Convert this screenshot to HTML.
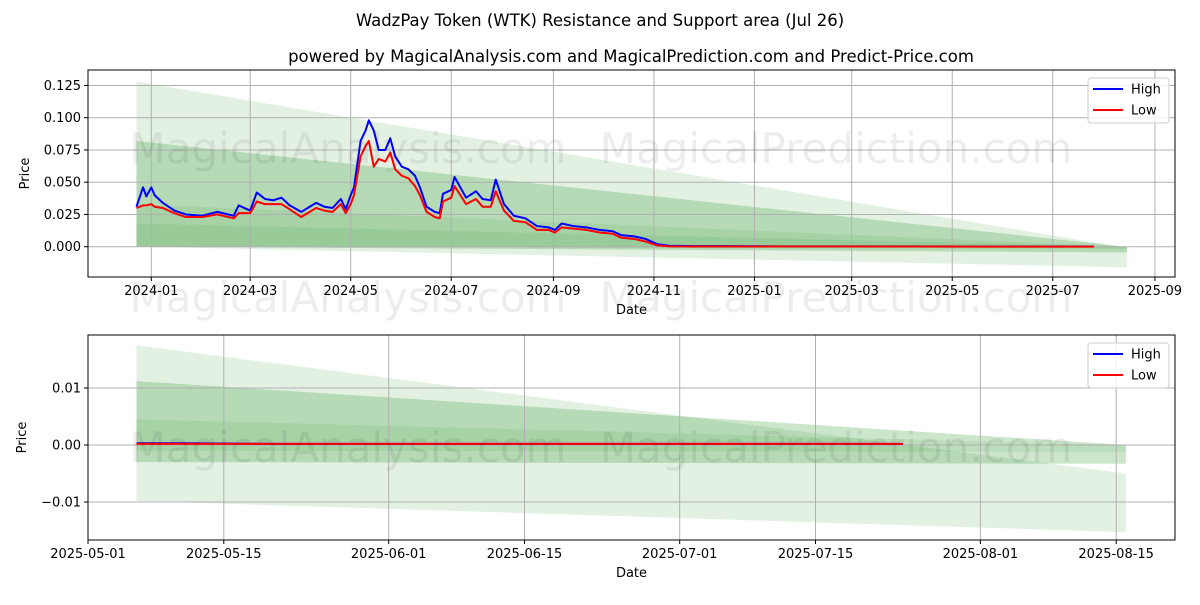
<!DOCTYPE html>
<html><head><meta charset="utf-8"><style>
body{margin:0;background:#fff;}
svg{font-family:"DejaVu Sans","Liberation Sans",sans-serif;}
</style></head><body>
<svg id="c" width="1200" height="600" viewBox="0 0 1200 600" xmlns="http://www.w3.org/2000/svg">
<rect width="1200" height="600" fill="#fff"/>
<text x="600" y="26" text-anchor="middle" font-size="16.5">WadzPay Token (WTK) Resistance and Support area (Jul 26)</text>
<text x="631" y="62" text-anchor="middle" font-size="16.5">powered by MagicalAnalysis.com and MagicalPrediction.com and Predict-Price.com</text>
<g id="top"></g><g id="bot"></g>
</svg>
<script>
// ---- top chart data (day offset from 2024-01-01) ----
const topDays=[-9,-5,-3,0,2,7,14,21,31,40,50,53,60,64,69,74,79,84,91,100,105,110,115,118,121,123,125,127,130,132,135,138,142,145,148,152,156,160,163,167,172,175,177,182,184,191,197,201,206,209,214,220,227,234,241,245,249,256,264,272,280,285,293,300,307,314,330,350,380,420,460,500,540,572];
const topHigh=[0.031,0.046,0.039,0.046,0.040,0.034,0.028,0.025,0.024,0.027,0.024,0.032,0.028,0.042,0.037,0.036,0.038,0.032,0.027,0.034,0.031,0.030,0.037,0.029,0.040,0.046,0.064,0.082,0.090,0.098,0.090,0.075,0.075,0.084,0.070,0.062,0.060,0.055,0.046,0.031,0.027,0.026,0.041,0.044,0.054,0.038,0.043,0.037,0.036,0.052,0.033,0.024,0.022,0.016,0.015,0.013,0.018,0.016,0.015,0.013,0.012,0.009,0.008,0.006,0.002,0.0007,0.0004,0.0004,0.0003,0.0003,0.0003,0.0002,0.0002,0.0002];
const topLow=[0.030,0.032,0.032,0.033,0.031,0.030,0.026,0.023,0.023,0.025,0.022,0.026,0.026,0.035,0.033,0.033,0.033,0.029,0.023,0.030,0.028,0.027,0.033,0.026,0.033,0.040,0.055,0.070,0.078,0.082,0.062,0.068,0.066,0.073,0.060,0.055,0.053,0.047,0.040,0.027,0.023,0.022,0.035,0.038,0.047,0.033,0.037,0.031,0.031,0.043,0.028,0.020,0.019,0.013,0.013,0.011,0.015,0.014,0.013,0.011,0.010,0.007,0.006,0.004,0.001,0.0003,0.0002,0.0002,0.0002,0.0002,0.0002,0.0001,0.0001,0.0001];
const topTickLabels=["2024-01","2024-03","2024-05","2024-07","2024-09","2024-11","2025-01","2025-03","2025-05","2025-07","2025-09"];
const topTickDays=[0,60,121,182,244,305,366,425,486,547,609];
const topYTicks=[0,0.025,0.05,0.075,0.1,0.125];
const topYLabels=["0.000","0.025","0.050","0.075","0.100","0.125"];
// bands: [startTop,startBot,endTop,endBot]
const topBands=[[0.128,0,-0.001,-0.016],[0.082,0,0.0,-0.0045],[0.033,0,0,-0.002],[0.018,0,0,-0.001]];
const topBandDays=[-9,592];
// ---- bottom chart data (day offset from 2025-05-01) ----
const botDays=[5,10,20,40,60,70,84];
const botHigh=[0.0003,0.0003,0.0002,0.0002,0.0002,0.0002,0.0002];
const botLow=[0.0002,0.0002,0.0002,0.0002,0.0002,0.0002,0.0002];
const botTickLabels=["2025-05-01","2025-05-15","2025-06-01","2025-06-15","2025-07-01","2025-07-15","2025-08-01","2025-08-15"];
const botTickDays=[0,14,31,45,61,75,92,106];
const botYTicks=[-0.01,0,0.01];
const botYLabels=["−0.01","0.00","0.01"];
const botBands=[[0.0175,-0.0098,-0.005,-0.0153],[0.0112,-0.003,0.0,-0.0033],[0.0045,-0.001,0,-0.0012]];
const botBandDays=[5,107];

const NS="http://www.w3.org/2000/svg";
function mk(p,t,a){const e=document.createElementNS(NS,t);for(const k in a)e.setAttribute(k,a[k]);p.appendChild(e);return e;}
function draw(g,cfg){
 const {L,R,T,B,x,y}=cfg;
 const wm=[["MagicalAnalysis.com",348],["MagicalPrediction.com",836]];
 const fills=["rgba(0,128,0,0.11)","rgba(0,128,0,0.2)","rgba(0,128,0,0.08)","rgba(0,128,0,0.08)"];
 cfg.bands.forEach((b,i)=>{
  const d0=cfg.bandDays[0],d1=cfg.bandDays[1];
  const p=mk(g,"polygon",{points:`${x(d0)},${y(b[0])} ${x(d1)},${y(b[2])} ${x(d1)},${y(b[3])} ${x(d0)},${y(b[1])}`,fill:fills[i]});
  
  
 });
 cfg.xt.forEach((d,i)=>{const X=x(d);if(X<L||X>R)return;
  mk(g,"line",{x1:X,x2:X,y1:T,y2:B,stroke:"#b0b0b0","stroke-width":1});
  mk(g,"line",{x1:X,x2:X,y1:B,y2:B+4,stroke:"#000"});
  const t=mk(g,"text",{x:X,y:B+18,"text-anchor":"middle","font-size":13});t.textContent=cfg.xl[i];
  
  
 });
 cfg.yt.forEach((v,i)=>{const Y=y(v);
  mk(g,"line",{x1:L,x2:R,y1:Y,y2:Y,stroke:"#b0b0b0","stroke-width":1});
  mk(g,"line",{x1:L-4,x2:L,y1:Y,y2:Y,stroke:"#000"});
  const t=mk(g,"text",{x:L-7,y:Y+4.5,"text-anchor":"end","font-size":13});t.textContent=cfg.yl[i];
  
  
 });
 [[cfg.hi,"#0000ff","high-line"],[cfg.lo,"#ff0000","low-line"]].forEach(([arr,c,n])=>{
  const pts=cfg.days.map((d,i)=>x(d)+","+y(arr[i])).join(" ");
  const pl=mk(g,"polyline",{points:pts,fill:"none",stroke:c,"stroke-width":2,"stroke-linejoin":"round"});
  
  
 });
 wm.forEach(([s,cx])=>{[cfg.wmY1,cfg.wmY2].forEach(wy=>{if(wy==null)return;
  const t=mk(g,"text",{x:cx,y:wy,"text-anchor":"middle","font-size":42,fill:"rgba(0,0,0,0.07)"});t.textContent=s;
  
  });});
 mk(g,"rect",{x:L,y:T,width:R-L,height:B-T,fill:"none",stroke:"#000","stroke-width":1});
 const xl=mk(g,"text",{x:(L+R)/2,y:B+37,"text-anchor":"middle","font-size":13});xl.textContent="Date";
 
 
 const yl=mk(g,"text",{x:0,y:0,"text-anchor":"middle","font-size":13,transform:`translate(${cfg.ylx},${(T+B)/2}) rotate(-90)`});yl.textContent="Price";
 
 
 const lg=mk(g,"g",{});
 
 
 mk(lg,"rect",{x:1088,y:T+8,width:81,height:45,rx:3,fill:"#fff","fill-opacity":0.8,stroke:"#ccc"});
 [["High","#0000ff"],["Low","#ff0000"]].forEach(([s,c],i)=>{
  const yy=T+19+i*21;
  mk(lg,"line",{x1:1093,x2:1123,y1:yy,y2:yy,stroke:c,"stroke-width":2});
  const t=mk(lg,"text",{x:1131,y:yy+4.5,"font-size":13});t.textContent=s;
  
  
 });
}
draw(document.getElementById("top"),{L:88,R:1175,T:70,B:277,
 x:d=>151.3+d*1.648,y:v=>246.7-v*1290,
 days:topDays,hi:topHigh,lo:topLow,xt:topTickDays,xl:topTickLabels,yt:topYTicks,yl:topYLabels,
 bands:topBands,bandDays:topBandDays,ylx:29,wmY1:163,wmY2:312});
draw(document.getElementById("bot"),{L:88,R:1175,T:335,B:540,
 x:d=>88+d*9.7,y:v=>445-v*5700,
 days:botDays,hi:botHigh,lo:botLow,xt:botTickDays,xl:botTickLabels,yt:botYTicks,yl:botYLabels,
 bands:botBands,bandDays:botBandDays,ylx:26,wmY1:462,wmY2:null});
</script>
</body></html>
